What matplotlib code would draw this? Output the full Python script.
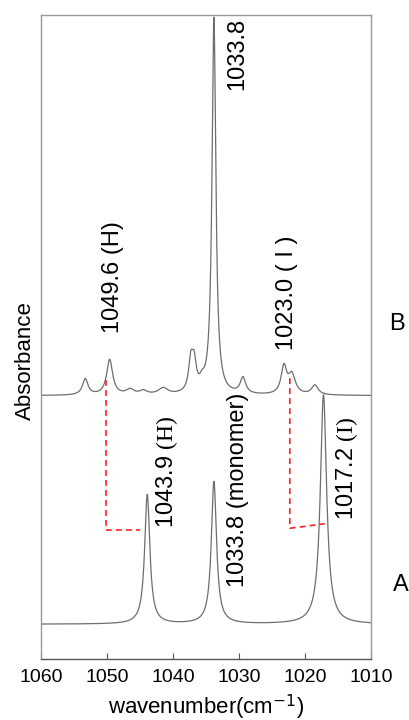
import numpy as np
import matplotlib
matplotlib.use("Agg")
from matplotlib import pyplot as plt

plt.rcParams['font.family'] = ['Liberation Sans', 'DejaVu Sans']
plt.rcParams['mathtext.fontset'] = 'custom'
plt.rcParams['mathtext.rm'] = 'Liberation Serif'
plt.rcParams['mathtext.it'] = 'Liberation Serif:italic'

### band parameters: centre (cm-1), height, fwhm ###
# spectrum A
a_centers = [1043.9, 1033.8, 1017.2]
a_heights = [0.201, 0.221, 0.356]
a_widths = [0.95, 0.95, 1.15]
a_base = 0.054

# spectrum B
b_centers = [1053.3, 1049.6, 1046.5, 1044.5, 1041.5, 1037.3, 1036.8, 1035.6,
             1033.8, 1029.4, 1023.2, 1022.0, 1018.5]
b_heights = [0.025, 0.055, 0.008, 0.006, 0.010, 0.046, 0.042, 0.012,
             0.585, 0.025, 0.042, 0.030, 0.015]
b_widths = [1.0, 1.1, 1.4, 1.4, 1.7, 0.8, 0.8, 0.9,
            0.7, 1.0, 1.0, 1.3, 1.2]
b_base = 0.409

xticks = [1060, 1050, 1040, 1030, 1020, 1010]


def lorentz_sum(x, centers, heights, widths, base):
    y = np.full_like(x, base)
    for c, h, w in zip(centers, heights, widths):
        y += h / (1 + (2 * (x - c) / w) ** 2)
    return y


wn = np.linspace(1060, 1010, 4000)
spec_a = lorentz_sum(wn, a_centers, a_heights, a_widths, a_base)
spec_b = lorentz_sum(wn, b_centers, b_heights, b_widths, b_base)

fig = plt.figure(figsize=(4.09, 7.2), dpi=100)
ax = fig.add_axes([41 / 409, 61 / 720, 330 / 409, 644 / 720])

ax.plot(wn, spec_a, color='#6e6e6e', lw=0.9)
ax.plot(wn, spec_b, color='#6e6e6e', lw=0.9)

# correlation lines between the two spectra
red = dict(color='#ff2020', lw=1.2, ls=(0, (3.5, 2.5)))
ax.plot([1050.15, 1050.15, 1045.0], [0.433, 0.200, 0.200], **red)
ax.plot([1022.3, 1022.3, 1017.0], [0.436, 0.203, 0.210], **red)

# peak labels
lab = dict(rotation=90, ha='center', va='bottom', fontsize=17)
ax.text(1030.3, 0.884, '1033.8', **lab)
ax.text(1049.1, 0.506, '1049.6 (H)', **lab)
ax.text(1022.7, 0.480, '1023.0 ( I )', **lab)
ax.text(1040.9, 0.203, r'1043.9 $\mathrm{(H)}$', **lab)
ax.text(1030.2, 0.112, '1033.8 (monomer)', **lab)
ax.text(1013.6, 0.216, r'1017.2 $\mathrm{(I)}$', **lab)

ax.text(1.08, (659 - 324) / 644, 'B', transform=ax.transAxes, fontsize=17,
        ha='center', va='center')
ax.text(1.09, (659 - 585) / 644, 'A', transform=ax.transAxes, fontsize=17,
        ha='center', va='center')

ax.set_xlim(1060, 1010)
ax.set_ylim(0, 1.0)
ax.set_xticks(xticks)
ax.set_xticks(np.arange(1055, 1010, 10), minor=True)
ax.set_yticks([])
ax.tick_params(axis='x', which='both', direction='in', top=False,
               labelsize=14, color='#555555', pad=7)
ax.tick_params(axis='x', which='major', length=4)
ax.tick_params(axis='x', which='minor', length=2.5)
for sp in ax.spines.values():
    sp.set_color('#999999')
    sp.set_linewidth(1.0)
ax.spines['bottom'].set_color('#555555')

ax.set_xlabel(r'wavenumber(cm$^{\mathsf{-1}}$)', fontsize=16, labelpad=5)
ax.set_ylabel('Absorbance', fontsize=16)
ax.yaxis.set_label_coords(-0.015, (659 - 361) / 644)

fig.savefig('out.png', dpi=100)
